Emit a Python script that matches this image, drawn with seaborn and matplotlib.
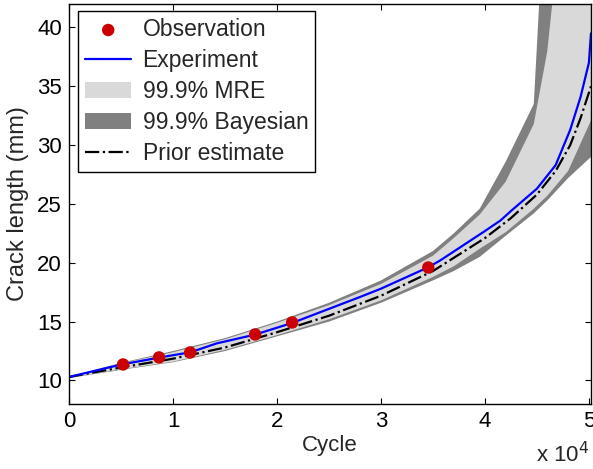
import numpy as np
import pandas as pd
import matplotlib
matplotlib.use("Agg")
import matplotlib.pyplot as plt
from matplotlib.ticker import FuncFormatter
import seaborn as sns

# observations (cycle, crack length mm)
obs_cycle = [5200, 8660, 11650, 17900, 21460, 34550]
obs_len = [11.36, 11.96, 12.38, 13.91, 14.93, 19.6]

# experiment curve
exp_cycle = [0, 5000, 8700, 11700, 14200, 17900, 21500, 28000, 30000, 34500,
             35700, 40000, 41500, 42500, 45000, 46800, 48200, 49200, 50000, 50200]
exp_len = [10.3, 11.35, 11.95, 12.4, 13.15, 13.9, 14.9, 17.1, 17.8, 19.6,
           20.2, 22.7, 23.6, 24.4, 26.3, 28.3, 31.3, 34.1, 37.0, 39.5]

# prior estimate
prior_cycle = [0, 5000, 10000, 15000, 20000, 25000, 30000, 35000, 40000,
               42500, 45000, 46800, 48200, 49200, 50200]
prior_len = [10.3, 11.1, 11.85, 12.8, 14.1, 15.5, 17.2, 19.3, 22.1,
             23.8, 25.8, 27.8, 30.0, 32.3, 35.0]

# 99.9% bounds
band_cycle = [0, 5000, 10000, 15000, 20000, 25000, 30000, 35000, 37000,
              39500, 42000, 44700, 46000, 48000, 50200]
mre_up = [10.3, 11.45, 12.4, 13.5, 14.9, 16.4, 18.2, 20.6, 22.1,
          24.1, 26.9, 31.8, 38.0, 55.0, 80.0]
mre_low = [10.2, 10.95, 11.6, 12.6, 13.85, 15.2, 16.8, 18.8, 19.7,
           21.2, 22.6, 24.6, 25.7, 27.8, 32.1]
bayes_up = [10.3, 11.5, 12.5, 13.6, 15.0, 16.6, 18.5, 21.0, 22.5,
            24.6, 28.6, 33.5, 55.0, 80.0, 100.0]
bayes_low = [10.2, 10.9, 11.55, 12.5, 13.75, 15.0, 16.6, 18.5, 19.3,
             20.5, 22.3, 24.2, 25.3, 27.2, 29.0]

sns.set_style("ticks")
plt.rcParams['font.family'] = ['Liberation Sans', 'DejaVu Sans']

fig = plt.figure(figsize=(5.93, 4.69), dpi=100)
ax = fig.add_axes([0.1164, 0.1386, 0.8802, 0.853])

band = pd.DataFrame({'cycle': band_cycle, 'mre_up': mre_up, 'mre_low': mre_low,
                     'bayes_up': bayes_up, 'bayes_low': bayes_low})
ax.fill_between(band['cycle'], band['bayes_low'], band['bayes_up'],
                color='#808080', lw=0, label='99.9% Bayesian')
ax.fill_between(band['cycle'], band['mre_low'], band['mre_up'],
                color='#d9d9d9', lw=0, label='99.9% MRE')

prior_df = pd.DataFrame({'cycle': prior_cycle, 'len': prior_len})
exp_df = pd.DataFrame({'cycle': exp_cycle, 'len': exp_len})
obs_df = pd.DataFrame({'cycle': obs_cycle, 'len': obs_len})

sns.lineplot(data=prior_df, x='cycle', y='len', ax=ax, color='black', lw=1.6,
             linestyle='-.', sort=False, estimator=None, label='Prior estimate')
sns.lineplot(data=exp_df, x='cycle', y='len', ax=ax, color='#0000ff', lw=1.6,
             sort=False, estimator=None, label='Experiment')
sns.scatterplot(data=obs_df, x='cycle', y='len', ax=ax, color='#cc0000', s=80,
                edgecolor='none', zorder=5, label='Observation')

ax.set_xlim(0, 50200)
ax.set_ylim(8, 42)
ax.set_xticks([0, 10000, 20000, 30000, 40000, 50000])
ax.set_yticks([10, 15, 20, 25, 30, 35, 40])
ax.xaxis.set_major_formatter(FuncFormatter(lambda v, p: f'{v / 1e4:g}'))
ax.tick_params(direction='in', length=4, width=0.8, labelsize=16,
               top=True, right=True, pad=5, colors='black')
for s in ax.spines.values():
    s.set_visible(True)
    s.set_color('black')
    s.set_linewidth(1.0)

ax.set_xlabel('Cycle', fontsize=16, labelpad=2)
ax.set_ylabel('Crack length (mm)', fontsize=17, labelpad=6)
ax.text(0.997, -0.145, r'x 10$^4$', transform=ax.transAxes, ha='right', va='baseline',
        fontsize=16)

h, l = ax.get_legend_handles_labels()
order = ['Observation', 'Experiment', '99.9% MRE', '99.9% Bayesian', 'Prior estimate']
hd = dict(zip(l, h))
leg = ax.legend([hd[k] for k in order], order, loc='upper left',
                bbox_to_anchor=(0.018, 0.982), fontsize=16.5, frameon=True,
                fancybox=False, edgecolor='black', framealpha=1,
                handlelength=2.0, labelspacing=0.35, borderpad=0.3,
                handletextpad=0.5, borderaxespad=0)
leg.get_frame().set_linewidth(1.0)

fig.savefig('out.png', dpi=100)
